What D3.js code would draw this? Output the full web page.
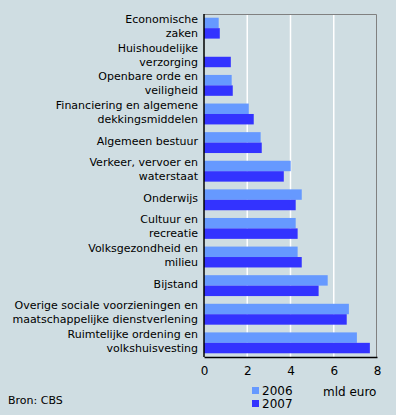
<!DOCTYPE html>
<html>
<head>
<meta charset="utf-8">
<script src="https://cdn.jsdelivr.net/npm/d3@7"></script>
<style>
  body { margin: 0; background: #cfdde2; }
  svg { display: block; font-family: "DejaVu Sans", Verdana, sans-serif; }
</style>
</head>
<body>
<div id="chart"></div>
<script>
// categories (label lines) top to bottom
var categories = [
    ["Economische", "zaken"],
    ["Huishoudelijke", "verzorging"],
    ["Openbare orde en", "veiligheid"],
    ["Financiering en algemene", "dekkingsmiddelen"],
    ["Algemeen bestuur"],
    ["Verkeer, vervoer en", "waterstaat"],
    ["Onderwijs"],
    ["Cultuur en", "recreatie"],
    ["Volksgezondheid en", "milieu"],
    ["Bijstand"],
    ["Overige sociale voorzieningen en", "maatschappelijke dienstverlening"],
    ["Ruimtelijke ordening en", "volkshuisvesting"]
];
var values2006 = [0.68, 0, 1.28, 2.07, 2.62, 4.01, 4.52, 4.24, 4.33, 5.72, 6.70, 7.07];
var values2007 = [0.73, 1.24, 1.33, 2.30, 2.67, 3.69, 4.24, 4.33, 4.52, 5.30, 6.60, 7.67];
var seriesNames = ["2006", "2007"];
var colors = ["#6699ff", "#3333ff"];
var xTicks = [0, 2, 4, 6, 8];

var W = 396, H = 415;
var margin = { top: 14, right: 19, bottom: 58, left: 204 };
var width = W - margin.left - margin.right,
    height = H - margin.top - margin.bottom;

var svg = d3.select("#chart").append("svg")
    .attr("width", W).attr("height", H);

svg.append("rect").attr("width", W).attr("height", H).attr("fill", "#cfdde2");

var g = svg.append("g")
    .attr("transform", "translate(" + margin.left + "," + margin.top + ")");

var keys = categories.map(function(d, i) { return i; });

var x = d3.scaleLinear().domain([0, 8]).range([0, width]);
var y = d3.scaleBand().domain(keys).range([0, height]).paddingInner(0.27).paddingOuter(0.13);
var ySub = d3.scaleBand().domain(seriesNames).range([0, y.bandwidth()]);

// gridlines
g.selectAll(".grid")
    .data(xTicks.filter(function(t) { return t > 0 && t < 8; }))
    .enter().append("line")
    .attr("x1", function(d) { return x(d); })
    .attr("x2", function(d) { return x(d); })
    .attr("y1", 0).attr("y2", height)
    .attr("stroke", "#ffffff").attr("stroke-width", 1.5);

// top and right frame
g.append("path")
    .attr("d", "M0,0.5H" + (width - 0.5) + "V" + height)
    .attr("fill", "none").attr("stroke", "#808080").attr("stroke-width", 1);

// bars
var data = [];
keys.forEach(function(k) {
    data.push({ key: k, s: "2006", v: values2006[k] });
    data.push({ key: k, s: "2007", v: values2007[k] });
});

g.selectAll(".bar")
    .data(data.filter(function(d) { return d.v > 0; }))
    .enter().append("rect")
    .attr("x", x(0))
    .attr("y", function(d) { return y(d.key) + ySub(d.s); })
    .attr("width", function(d) { return x(d.v) - x(0); })
    .attr("height", ySub.bandwidth())
    .attr("fill", function(d) { return colors[seriesNames.indexOf(d.s)]; });

// x axis
var xAxis = g.append("g")
    .attr("transform", "translate(0," + height + ")")
    .call(d3.axisBottom(x).tickValues(xTicks).tickSize(0).tickPadding(9));
xAxis.select(".domain").attr("stroke", "#000").attr("stroke-width", 1.5);
xAxis.selectAll("text").attr("font-size", "12px").attr("fill", "#000")
    .attr("font-family", "DejaVu Sans, Verdana, sans-serif");

// y axis line
g.append("line")
    .attr("x1", 0).attr("x2", 0).attr("y1", 0).attr("y2", height)
    .attr("stroke", "#000").attr("stroke-width", 1.5);

// category labels
var labels = g.selectAll(".cat")
    .data(keys)
    .enter().append("text")
    .attr("text-anchor", "end")
    .attr("font-size", "11px")
    .attr("fill", "#000")
    .attr("x", -6)
    .attr("y", function(d) {
        var n = categories[d].length;
        return y(d) + y.bandwidth() / 2 - (n - 1) * 7 + 2;
    });
labels.each(function(d) {
    var t = d3.select(this);
    categories[d].forEach(function(line, i) {
        t.append("tspan")
            .attr("x", -6)
            .attr("dy", i === 0 ? 0 : 14)
            .text(line);
    });
});

// legend
var legend = svg.append("g").attr("transform", "translate(252,387)");
seriesNames.forEach(function(s, i) {
    legend.append("rect")
        .attr("x", 0).attr("y", i * 13)
        .attr("width", 7).attr("height", 7)
        .attr("fill", colors[i]);
    legend.append("text")
        .attr("x", 10).attr("y", i * 13 + 8)
        .attr("font-size", "12px")
        .text(s);
});

svg.append("text")
    .attr("x", 323).attr("y", 396)
    .attr("font-size", "12px")
    .text("mld euro");

svg.append("text")
    .attr("x", 8).attr("y", 404)
    .attr("font-size", "11px")
    .text("Bron: CBS");
</script>
</body>
</html>
